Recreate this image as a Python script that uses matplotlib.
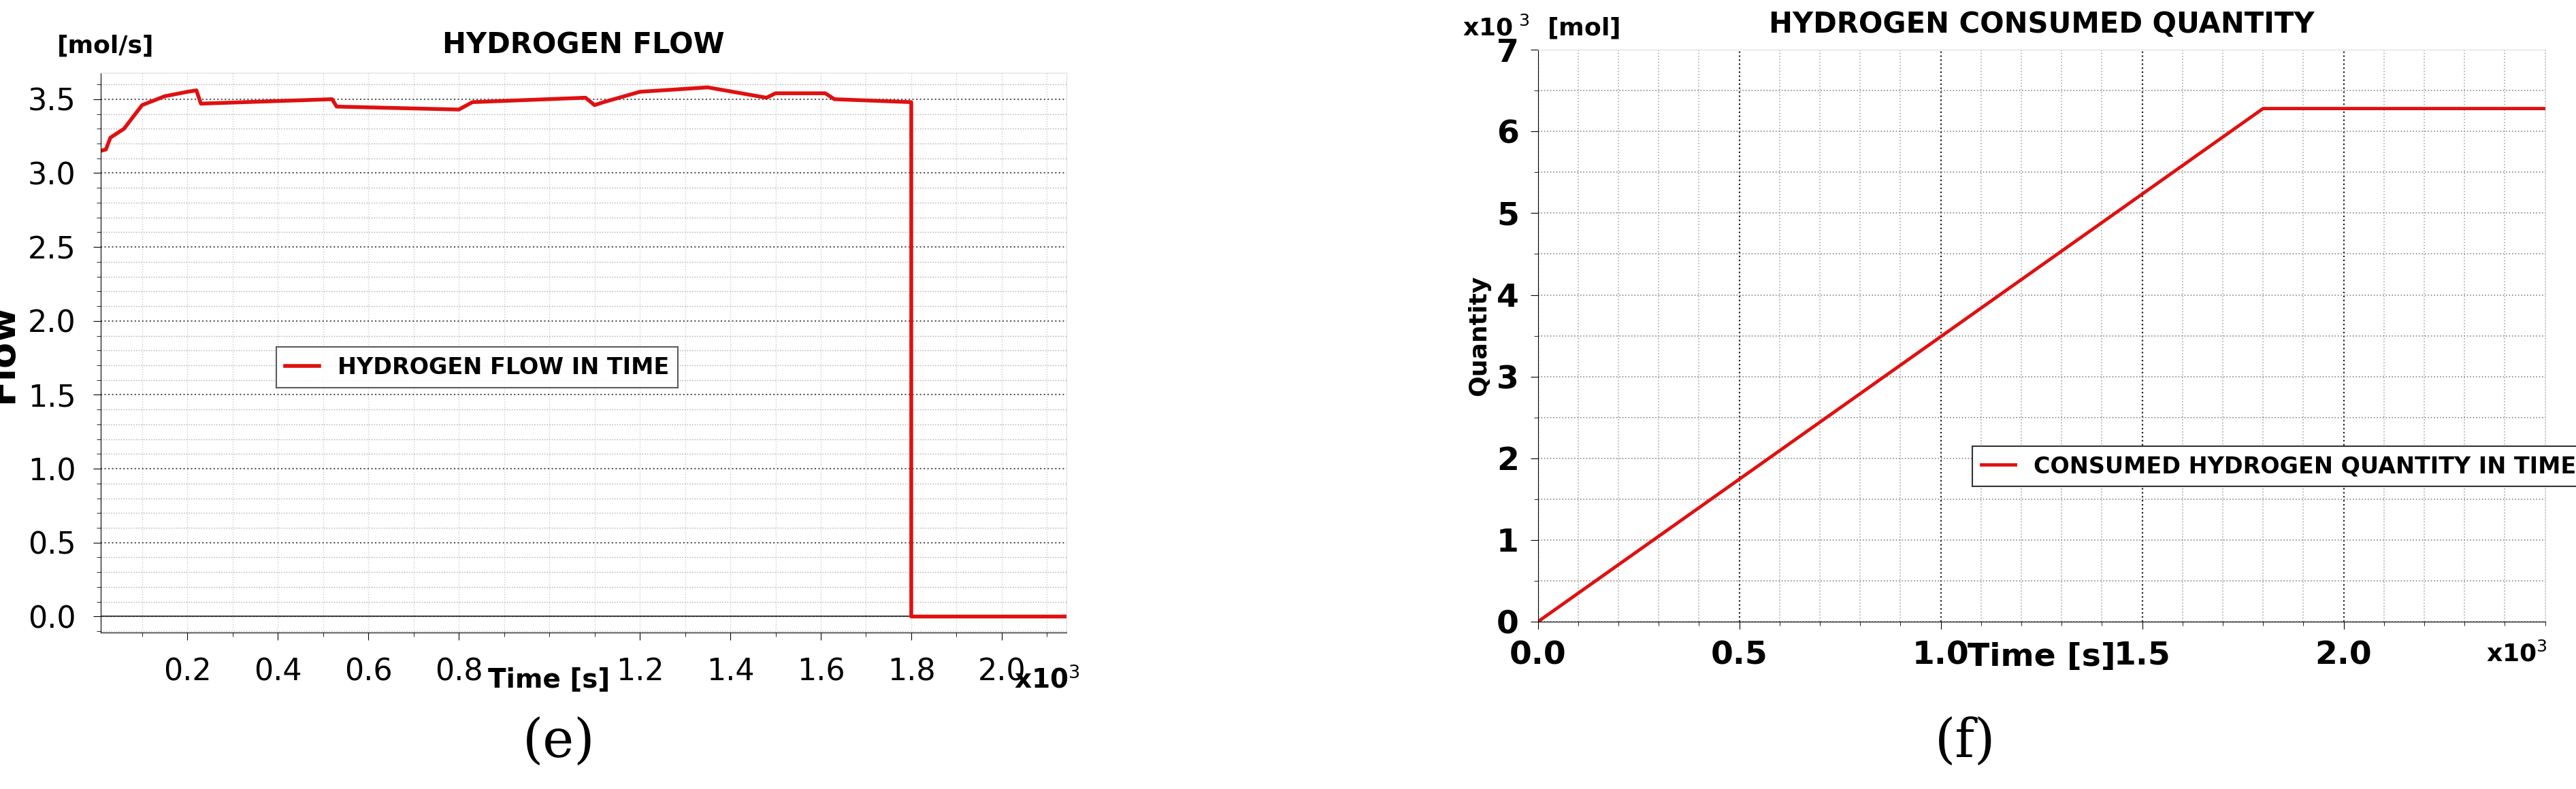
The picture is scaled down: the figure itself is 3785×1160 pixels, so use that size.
import numpy as np
import matplotlib
matplotlib.use("Agg")
import matplotlib.pyplot as plt
from matplotlib.ticker import MultipleLocator

# ── 数据（时间单位: x10^3 s）──────────────────────────────
flow_t = [0.008, 0.02, 0.03, 0.06, 0.10, 0.15, 0.20, 0.22, 0.23, 0.52, 0.53,
          0.80, 0.83, 1.08, 1.10, 1.12, 1.20, 1.35, 1.48, 1.50, 1.61, 1.63,
          1.80, 1.80, 2.143]
flow_v = [3.15, 3.16, 3.24, 3.30, 3.46, 3.52, 3.55, 3.56, 3.47, 3.50, 3.45,
          3.43, 3.48, 3.51, 3.46, 3.48, 3.55, 3.58, 3.51, 3.54, 3.54, 3.50,
          3.48, 0.0, 0.0]

qty_t = [0.0, 1.8, 2.5]
qty_v = [0.0, 6.28, 6.28]

flow_xticks = [0.2, 0.4, 0.6, 0.8, 1.2, 1.4, 1.6, 1.8, 2.0]
qty_xticks = [0.0, 0.5, 1.0, 1.5, 2.0]

RED = "#e01010"
FONT = dict(family="DejaVu Sans")

fig = plt.figure(figsize=(37.85, 11.6), dpi=100)

# ── (e) 氢气流量 ──────────────────────────────────────────
ax1 = fig.add_axes([0.039, 0.198, 0.375, 0.71])
ax1.plot(flow_t, flow_v, color=RED, lw=4, label="HYDROGEN FLOW IN TIME")
ax1.axhline(0, color="#333333", lw=1.5, zorder=1)
ax1.set_xlim(0.008, 2.143)
ax1.set_ylim(-0.11, 3.68)
ax1.set_xticks(flow_xticks)
ax1.set_xticklabels([f"{v:.1f}" for v in flow_xticks], fontsize=32, **FONT)
ax1.xaxis.set_minor_locator(MultipleLocator(0.1))
ax1.set_yticks(np.arange(0, 3.51, 0.5))
ax1.set_yticklabels([f"{v:.1f}" for v in np.arange(0, 3.51, 0.5)], fontsize=32, **FONT)
ax1.yaxis.set_minor_locator(MultipleLocator(0.1))
ax1.grid(which="major", axis="y", ls=":", color="#555555", lw=1.5)
ax1.grid(which="minor", axis="y", ls=":", color="#aaaaaa", lw=1)
ax1.grid(which="both", axis="x", ls=":", color="#cccccc", lw=1)
ax1.tick_params(which="major", length=8, pad=18)
ax1.tick_params(which="minor", length=4)
for s in ["top", "right"]:
    ax1.spines[s].set_color("#dddddd")
ax1.set_title("HYDROGEN FLOW", fontsize=30, fontweight="bold", pad=20, **FONT)
ax1.set_ylabel("Flow", fontsize=40, fontweight="bold", labelpad=8)
ax1.text(1.0, -0.06, "Time [s]", transform=ax1.get_xaxis_transform(),
         ha="center", va="top", fontsize=28, fontweight="bold", **FONT)
ax1.text(2.1, -0.06, r"x10$^3$", transform=ax1.get_xaxis_transform(),
         ha="center", va="top", fontsize=28, fontweight="bold", **FONT)
ax1.text(-0.045, 1.035, "[mol/s]", transform=ax1.transAxes, fontsize=26,
         fontweight="bold", **FONT)
leg1 = ax1.legend(loc="upper left", bbox_to_anchor=(0.17, 0.53), fancybox=False,
                  edgecolor="#333333", prop=dict(size=24, weight="bold", **FONT),
                  handlelength=1.5)
leg1.get_frame().set_linewidth(1.5)
fig.text(0.217, 0.04, "(e)", ha="center", fontsize=56, family="DejaVu Serif")

# ── (f) 氢气消耗量 ────────────────────────────────────────
ax2 = fig.add_axes([0.597, 0.212, 0.391, 0.725])
ax2.plot(qty_t, qty_v, color=RED, lw=3.5, label="CONSUMED HYDROGEN QUANTITY IN TIME")
ax2.set_xlim(0, 2.5)
ax2.set_ylim(0, 7)
ax2.set_xticks(qty_xticks)
ax2.set_xticklabels([f"{v:.1f}" for v in qty_xticks], fontsize=34, fontweight="bold", **FONT)
ax2.xaxis.set_minor_locator(MultipleLocator(0.1))
ax2.set_yticks(range(8))
ax2.set_yticklabels([str(v) for v in range(8)], fontsize=34, fontweight="bold", **FONT)
ax2.yaxis.set_minor_locator(MultipleLocator(0.5))
ax2.grid(which="major", axis="x", ls=":", color="#222222", lw=1.6)
ax2.grid(which="minor", axis="x", ls=":", color="#aaaaaa", lw=1.2)
ax2.grid(which="both", axis="y", ls=":", color="#888888", lw=1.2)
ax2.tick_params(which="major", length=8, pad=12)
ax2.tick_params(which="minor", length=4)
for s in ["top", "right"]:
    ax2.spines[s].set_color("#dddddd")
ax2.set_title("HYDROGEN CONSUMED QUANTITY", fontsize=30, fontweight="bold", pad=18, **FONT)
ax2.set_ylabel("Quantity", fontsize=26, fontweight="bold", labelpad=6)
ax2.text(1.25, -0.035, "Time [s]", transform=ax2.get_xaxis_transform(),
         ha="center", va="top", fontsize=34, fontweight="bold", **FONT)
ax2.text(2.43, -0.035, r"x10$^3$", transform=ax2.get_xaxis_transform(),
         ha="center", va="top", fontsize=26, fontweight="bold", **FONT)
ax2.text(-0.075, 1.025, r"x10$^{\ 3}$  [mol]", transform=ax2.transAxes, fontsize=26,
         fontweight="bold", **FONT)
leg2 = ax2.legend(loc="upper left", bbox_to_anchor=(0.42, 0.327), fancybox=False,
                  edgecolor="#333333", prop=dict(size=24, weight="bold", **FONT),
                  handlelength=1.5, framealpha=1)
leg2.get_frame().set_linewidth(1.5)
fig.text(0.763, 0.04, "(f)", ha="center", fontsize=56, family="DejaVu Serif")

fig.savefig("out.png", dpi=100)
